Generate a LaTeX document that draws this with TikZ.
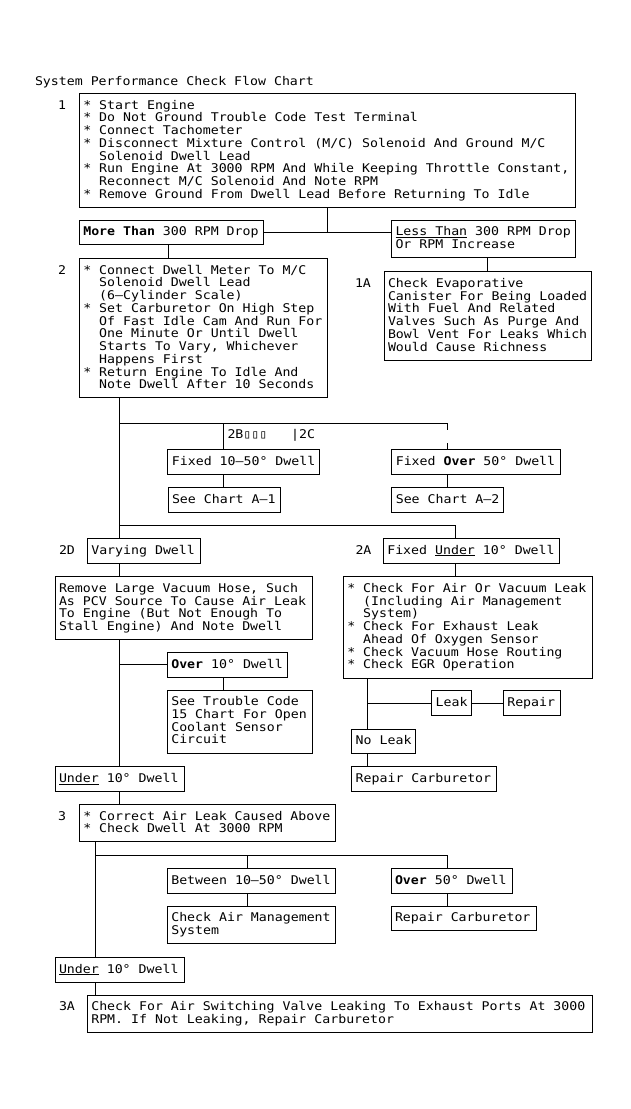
\documentclass[tikz,border=0pt]{standalone}
\usepackage{fontspec}
\setmonofont[FakeStretch=1.103]{DejaVu Sans Mono}
\newcommand\fs{\ttfamily\fontsize{12pt}{12.75pt}\selectfont\frenchspacing}
\newcommand\fixsp{\spaceskip=\fontcharwd\font`M\relax\xspaceskip=\spaceskip}
\newcommand\bx[1]{\fixsp\rule{0pt}{15.7pt}#1\rule[-9.1pt]{0pt}{9.1pt}}
\newcommand\uln[1]{\setbox0\hbox{#1}\rlap{\rule[-2.2pt]{\wd0}{1pt}}\box0\relax}
\hbadness=10000 \hfuzz=20pt
\setlength\parindent{0pt}
\begin{document}
\begin{tikzpicture}[x=1pt,y=-1pt,
  box/.style={draw, line width=1pt, anchor=north west, inner xsep=4pt, inner ysep=0pt, outer sep=0pt, align=left, font=\fs},
  lbl/.style={anchor=base west, inner sep=0pt, outer sep=0pt, font=\fs\fixsp},
  conn/.style={line width=1pt}]
\fill[white] (0,0) rectangle (630,1109);
\useasboundingbox (0,0) rectangle (630,1109);

\node[lbl] (title) at (35,85) {System Performance Check Flow Chart};

% step 1
\node[lbl] (l1) at (58,109) {1};
\node[box, text width=488.4pt] (b1) at (79.3,93.3) {\bx{\mbox{* Start Engine}\\
\mbox{* Do Not Ground Trouble Code Test Terminal}\\
\mbox{* Connect Tachometer}\\
\mbox{* Disconnect Mixture Control (M/C) Solenoid And Ground M/C}\\
\mbox{\ \ Solenoid Dwell Lead}\\
\mbox{* Run Engine At 3000 RPM And While Keeping Throttle Constant,}\\
\mbox{\ \ Reconnect M/C Solenoid And Note RPM}\\
\mbox{* Remove Ground From Dwell Lead Before Returning To Idle}}};

\node[box, text width=176.2pt] (more) at (79.3,220) {\bx{\mbox{\textbf{More Than} 300 RPM Drop}}};
\node[box, text width=176.2pt] (less) at (391.5,220) {\bx{\mbox{\uln{Less Than} 300 RPM Drop}\\
\mbox{Or RPM Increase}}};

% step 2 and 1A
\node[lbl] (l2) at (58,274) {2};
\node[box, text width=240.6pt] (b2) at (79.3,258.3) {\bx{\mbox{* Connect Dwell Meter To M/C}\\
\mbox{\ \ Solenoid Dwell Lead}\\
\mbox{\ \ (6–Cylinder Scale)}\\
\mbox{* Set Carburetor On High Step}\\
\mbox{\ \ Of Fast Idle Cam And Run For}\\
\mbox{\ \ One Minute Or Until Dwell}\\
\mbox{\ \ Starts To Vary, Whichever}\\
\mbox{\ \ Happens First}\\
\mbox{* Return Engine To Idle And}\\
\mbox{\ \ Note Dwell After 10 Seconds}}};

\node[lbl] (l1a) at (355,287.4) {1A};
\node[box, text width=199.7pt] (b1a) at (384,271.7) {\bx{\mbox{Check Evaporative}\\
\mbox{Canister For Being Loaded}\\
\mbox{With Fuel And Related}\\
\mbox{Valves Such As Purge And}\\
\mbox{Bowl Vent For Leaks Which}\\
\mbox{Would Cause Richness}}};

% 2B / 2C
\node[lbl] (l2b) at (227.5,438) {2B▯▯▯\ \ \ |2C};
\node[box, text width=144pt] (f1050) at (167.9,449.3) {\bx{\mbox{Fixed 10–50° Dwell}}};
\node[box, text width=104pt] (a1) at (168,487.3) {\bx{\mbox{See Chart A–1}}};
\node[box, text width=160.2pt] (fo50) at (391.8,449.3) {\bx{\mbox{Fixed \textbf{Over} 50° Dwell}}};
\node[box, text width=104pt] (a2) at (391.8,487.3) {\bx{\mbox{See Chart A–2}}};

% 2D / 2A
\node[lbl] (l2d) at (59,554) {2D};
\node[box, text width=104.7pt] (vary) at (87.3,538.3) {\bx{\mbox{Varying Dwell}}};
\node[lbl] (l2a) at (355.5,554) {2A};
\node[box, text width=168pt] (fu10) at (383.3,538.3) {\bx{\mbox{Fixed \uln{Under} 10° Dwell}}};

\node[box, text width=249.3pt] (remove) at (55,576.7) {\bx{\mbox{Remove Large Vacuum Hose, Such}\\
\mbox{As PCV Source To Cause Air Leak}\\
\mbox{To Engine (But Not Enough To}\\
\mbox{Stall Engine) And Note Dwell}}};
\node[box, text width=241pt] (chk) at (343.3,576.7) {\bx{\mbox{* Check For Air Or Vacuum Leak}\\
\mbox{\ \ (Including Air Management}\\
\mbox{\ \ System)}\\
\mbox{* Check For Exhaust Leak}\\
\mbox{\ \ Ahead Of Oxygen Sensor}\\
\mbox{* Check Vacuum Hose Routing}\\
\mbox{* Check EGR Operation}}};

\node[box, text width=112pt] (o10) at (167.3,652.3) {\bx{\mbox{\textbf{Over} 10° Dwell}}};
\node[box, text width=137pt] (trouble) at (167.3,690) {\bx{\mbox{See Trouble Code}\\
\mbox{15 Chart For Open}\\
\mbox{Coolant Sensor}\\
\mbox{Circuit}}};
\node[box, text width=121pt] (u10a) at (55,766.7) {\bx{\mbox{\uln{Under} 10° Dwell}}};

\node[box, text width=32pt] (leak) at (431.7,690.7) {\bx{\mbox{Leak}}};
\node[box, text width=48.7pt] (repair) at (503.3,690.7) {\bx{\mbox{Repair}}};
\node[box, text width=56pt] (noleak) at (351.7,729) {\bx{\mbox{No Leak}}};
\node[box, text width=136.3pt] (repcarb1) at (351.7,766.7) {\bx{\mbox{Repair Carburetor}}};

% step 3
\node[lbl] (l3) at (58,820) {3};
\node[box, text width=248.4pt] (b3) at (79.3,804.3) {\bx{\mbox{* Correct Air Leak Caused Above}\\
\mbox{* Check Dwell At 3000 RPM}}};
\node[box, text width=160.4pt] (between) at (167.3,868.3) {\bx{\mbox{Between 10–50° Dwell}}};
\node[box, text width=160.4pt] (airmgmt) at (167.3,906) {\bx{\mbox{Check Air Management}\\
\mbox{System}}};
\node[box, text width=113.3pt] (o50) at (391,868.3) {\bx{\mbox{\textbf{Over} 50° Dwell}}};
\node[box, text width=137pt] (repcarb2) at (391,906) {\bx{\mbox{Repair Carburetor}}};
\node[box, text width=121pt] (u10b) at (55,957.3) {\bx{\mbox{\uln{Under} 10° Dwell}}};
\node[lbl] (l3a) at (59,1010.7) {3A};
\node[box, text width=497pt] (b3a) at (87.3,995) {\bx{\mbox{Check For Air Switching Valve Leaking To Exhaust Ports At 3000}\\
\mbox{RPM. If Not Leaking, Repair Carburetor}}};

% connector columns and rows
\coordinate (xA) at (119.3,0);
\coordinate (xB) at (168,0);
\coordinate (xC) at (223.3,0);
\coordinate (xD) at (247.3,0);
\coordinate (xE) at (327.5,0);
\coordinate (xF) at (367.3,0);
\coordinate (xG) at (447.5,0);
\coordinate (xH) at (455.3,0);
\coordinate (xI) at (487.3,0);
\coordinate (xJ) at (95.7,0);
\coordinate (h1) at (0,423.3);
\coordinate (h2) at (0,525.7);
\coordinate (h3) at (0,855.7);

\draw[conn] (b1.south -| xE) -- (more.east -| xE);
\draw[conn] (more.east) -- (less.west |- more.east);
\draw[conn] (more.south -| xB) -- (b2.north -| xB);
\draw[conn] (less.south -| xI) -- (b1a.north -| xI);
\draw[conn] (b2.south -| xA) -- (vary.north -| xA);
\draw[conn] (h1 -| xA) -- (h1 -| xG);
\draw[conn] (h1 -| xC) -- (f1050.north -| xC);
\draw[conn] (h1 -| xG) -- ++(0,6.7);
\draw[conn] (fo50.north -| xG) -- ++(0,-6.6);
\draw[conn] (f1050.south -| xC) -- (a1.north -| xC);
\draw[conn] (fo50.south -| xG) -- (a2.north -| xG);
\draw[conn] (h2 -| xA) -- (h2 -| xH) -- (fu10.north -| xH);
\draw[conn] (vary.south -| xA) -- (remove.north -| xA);
\draw[conn] (remove.south -| xA) -- (u10a.north -| xA);
\draw[conn] (o10.west -| xA) -- (o10.west);
\draw[conn] (o10.south -| xC) -- (trouble.north -| xC);
\draw[conn] (fu10.south -| xH) -- (chk.north -| xH);
\draw[conn] (chk.south -| xF) -- (noleak.north -| xF);
\draw[conn] (leak.west -| xF) -- (leak.west);
\draw[conn] (leak.east) -- (repair.west);
\draw[conn] (noleak.south -| xF) -- (repcarb1.north -| xF);
\draw[conn] (u10a.south -| xA) -- (b3.north -| xA);
\draw[conn] (b3.south -| xJ) -- (u10b.north -| xJ);
\draw[conn] (h3 -| xJ) -- (h3 -| xG);
\draw[conn] (h3 -| xD) -- (between.north -| xD);
\draw[conn] (h3 -| xG) -- (o50.north -| xG);
\draw[conn] (between.south -| xD) -- (airmgmt.north -| xD);
\draw[conn] (o50.south -| xG) -- (repcarb2.north -| xG);
\draw[conn] (u10b.south -| xJ) -- (b3a.north -| xJ);
\end{tikzpicture}
\end{document}
